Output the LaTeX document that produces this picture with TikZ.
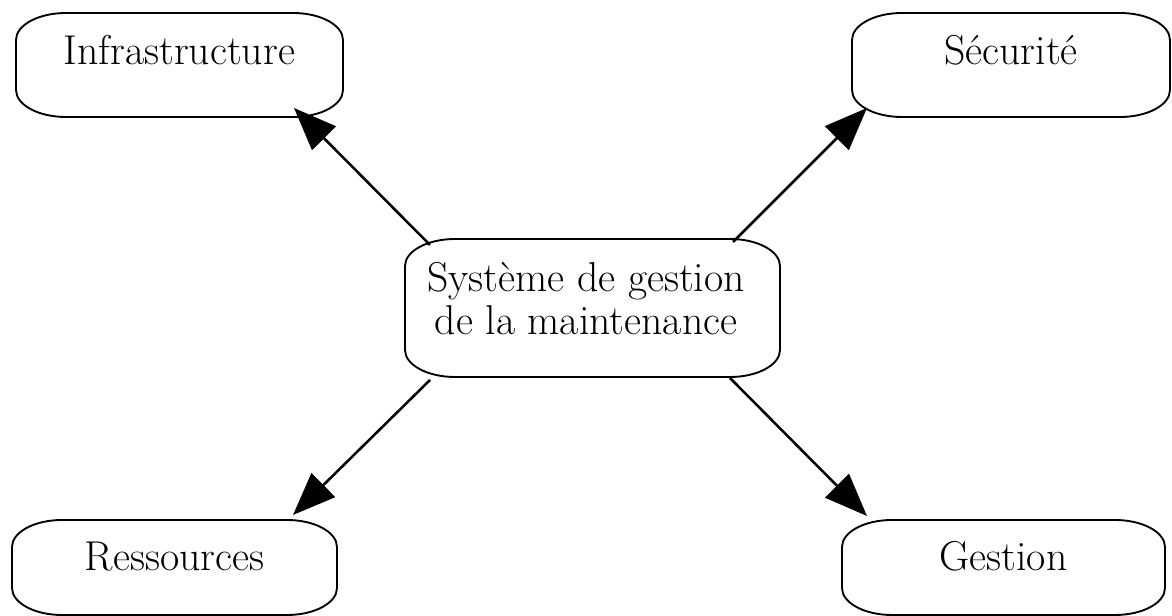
\documentclass[tikz,border=0pt]{standalone}
\usetikzlibrary{arrows.meta,calc}
\tikzset{
  box/.style={inner sep=0pt, outer sep=0pt, draw=none, font=\fontsize{31.3}{32.25}\selectfont},
  boxline/.style={line width=1.4pt, black},
  link/.style={line width=1.9pt, black, -{Triangle[length=32pt,width=25pt]}}
}
\newcommand\ovalbox[1]{%
  \draw[boxline] ($(#1.north west)+(50,0)$) -- ($(#1.north east)+(-50,0)$)
    arc[start angle=90,end angle=0,x radius=37.5pt,y radius=20.25pt]
    -- ($(#1.south east)+(0,27)$)
    arc[start angle=0,end angle=-90,x radius=37.5pt,y radius=20.25pt]
    -- ($(#1.south west)+(50,0)$)
    arc[start angle=270,end angle=180,x radius=37.5pt,y radius=20.25pt]
    -- ($(#1.north west)+(0,-27)$)
    arc[start angle=180,end angle=90,x radius=37.5pt,y radius=20.25pt] -- cycle;}
\begin{document}
\begin{tikzpicture}[x=0.75pt,y=0.75pt]
\useasboundingbox (0,0) rectangle (1172,616);
\node[box, minimum width=245.25pt, minimum height=78pt] (inf) at (179.5,551)
  {\raisebox{0pt}[0pt][0pt]{Infrastructure}};
\node[box, minimum width=238.5pt, minimum height=78pt] (sec) at (1011,551)
  {\raisebox{0pt}[0pt][0pt]{Sécurité}};
\node[box, minimum width=281.25pt, minimum height=103.5pt] (cen) at (592.5,308)
  {\raisebox{12pt}[0pt][0pt]{\begin{tabular}[t]{@{}c@{}}Système de gestion\\de la maintenance\end{tabular}}\kern9.75pt};
\node[box, minimum width=243.75pt, minimum height=71.25pt] (res) at (174.5,48.5)
  {\raisebox{-2.6pt}[0pt][0pt]{Ressources}};
\node[box, minimum width=242.25pt, minimum height=71.25pt] (ges) at (1003.5,48.5)
  {\raisebox{-2.6pt}[0pt][0pt]{Gestion}};
\ovalbox{inf}
\ovalbox{sec}
\ovalbox{cen}
\ovalbox{res}
\ovalbox{ges}
\draw[link] ($(cen.north west)+(25,-6)$) -- ($(inf.south east)+(-49,9)$);
\draw[link] ($(cen.north east)+(-47,-3)$) -- ($(sec.south west)+(15,9)$);
\draw[link] ($(cen.south west)+(25,-3)$) -- ($(res.north east)+(-44,5)$);
\draw[link] ($(cen.south east)+(-50,-1)$) -- ($(ges.north west)+(25,4)$);
\end{tikzpicture}
\end{document}
